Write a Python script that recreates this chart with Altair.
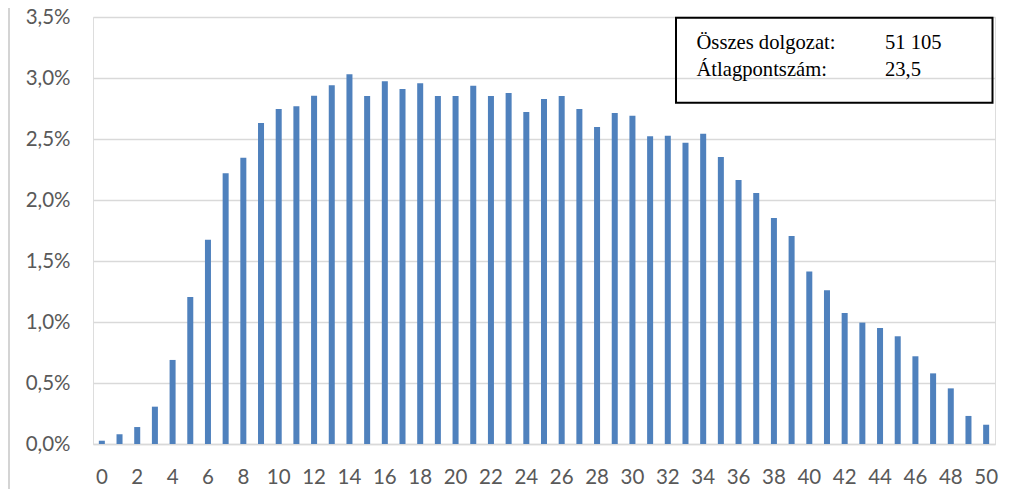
import altair as alt
import pandas as pd

scores = list(range(0, 51))
shares = [0.027, 0.079, 0.139, 0.306, 0.689, 1.205, 1.675, 2.219, 2.347, 2.631,
          2.746, 2.768, 2.855, 2.940, 3.030, 2.852, 2.973, 2.910, 2.956, 2.852,
          2.852, 2.937, 2.852, 2.877, 2.721, 2.828, 2.852, 2.746, 2.598, 2.713,
          2.691, 2.522, 2.527, 2.470, 2.544, 2.352, 2.164, 2.057, 1.852, 1.705,
          1.413, 1.260, 1.074, 0.995, 0.951, 0.883, 0.719, 0.579, 0.456, 0.230,
          0.158]
x_tick_labels = list(range(0, 51, 2))
y_ticks = [0.0, 0.005, 0.01, 0.015, 0.02, 0.025, 0.03, 0.035]
info_labels = ["Összes dolgozat:", "Átlagpontszám:"]
info_values = ["51 105", "23,5"]

df = pd.DataFrame({"pont": scores, "arany": [s / 100 for s in shares]})

W, H = 902, 427
FONT = "Lato"
GRAY = "#595959"
GRID = "#d9d9d9"

bars = alt.Chart(df).mark_bar(color="#4f81bd").encode(
    x=alt.X("pont:O",
            scale=alt.Scale(paddingInner=0.66, paddingOuter=0.33),
            axis=alt.Axis(title=None, values=x_tick_labels, labelAngle=0,
                          ticks=False, domain=True, domainColor=GRID, domainWidth=1.5,
                          labelFont=FONT, labelFontSize=20.5, labelColor=GRAY,
                          labelPadding=23, grid=False)),
    y=alt.Y("arany:Q",
            scale=alt.Scale(domain=[0, 0.035], nice=False),
            axis=alt.Axis(title=None, values=y_ticks, ticks=False, domain=False,
                          labelExpr="replace(format(datum.value, '.1%'), '.', ',')",
                          labelFont=FONT, labelFontSize=20.5, labelColor=GRAY,
                          labelPadding=23, grid=True, gridColor=GRID, gridWidth=1.5)),
)

one = pd.DataFrame({"k": [0]})

border = alt.Chart(one).mark_rule(color="#d4d4d4", strokeWidth=2).encode(
    x=alt.value(-84), y=alt.value(-10), y2=alt.value(480)
)

box = alt.Chart(one).mark_rect(fill="white", fillOpacity=0, stroke="black", strokeWidth=2).encode(
    x=alt.value(583), x2=alt.value(899.5), y=alt.value(0.7), y2=alt.value(85.7)
)

texts = []
for i, (lab, val) in enumerate(zip(info_labels, info_values)):
    yb = 32 + i * 27.4
    texts.append(alt.Chart(one).mark_text(align="left", baseline="alphabetic",
                                          font="Liberation Serif", fontSize=20.6, color="black").encode(
        x=alt.value(603.5), y=alt.value(yb), text=alt.value(lab)))
    texts.append(alt.Chart(one).mark_text(align="left", baseline="alphabetic",
                                          font="Liberation Serif", fontSize=20.6, color="black").encode(
        x=alt.value(792), y=alt.value(yb), text=alt.value(val)))

chart = alt.layer(bars, border, box, *texts).properties(
    width=W, height=H,
    autosize=alt.AutoSizeParams(type="none"),
    padding={"left": 85, "top": 9, "right": 8, "bottom": 46},
).configure_view(stroke=None).configure(background="white")

chart.save("out.html", embed_options={"renderer": "svg", "actions": False})
